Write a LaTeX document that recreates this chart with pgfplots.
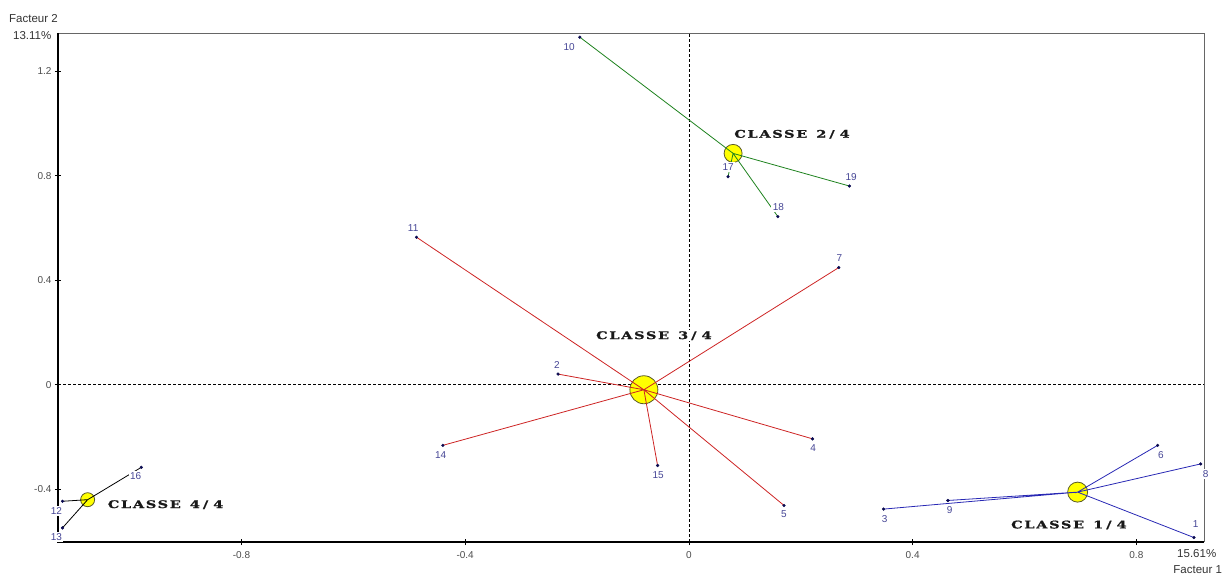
\documentclass[border=0pt]{standalone}
\usepackage{fontspec}
\setmainfont{Liberation Sans}
\newfontfamily\classfont[FakeStretch=1.38, LetterSpace=16, FakeBold=1.2]{DejaVu Serif}
\usepackage{pgfplots}
\pgfplotsset{compat=1.18}
\definecolor{cblue}{RGB}{40,40,180}
\definecolor{cgreen}{RGB}{30,130,30}
\definecolor{cred}{RGB}{205,35,35}
\definecolor{cdot}{RGB}{10,10,80}
\definecolor{clbl}{RGB}{70,70,150}
\definecolor{cyel}{RGB}{255,255,0}
\definecolor{cring}{RGB}{90,90,40}
\tikzset{
  lbl/.style={font=\fontsize{10}{12}\selectfont, text=clbl, fill=white, inner sep=1.5pt},
  cls/.style={font=\fontsize{10.5}{12}\classfont\bfseries, text=black!90, anchor=base west, fill=white, inner sep=1pt},
}
\begin{document}
\begin{tikzpicture}
\useasboundingbox (-58pt,-34pt) rectangle (1167pt,542pt);
\begin{axis}[
  at={(0,0)}, anchor=south west,
  scale only axis, width=1146pt, height=509pt,
  xmin=-1.128, xmax=0.921, ymin=-0.602, ymax=1.347,
  axis line style={draw=none},
  tick pos=left, tick align=center, major tick length=6pt,
  tick style={black, line width=0.8pt},
  xtick={-0.8,-0.4,0,0.4,0.8}, xticklabels={{-0.8},{-0.4},0,0.4,0.8},
  ytick={-0.4,0,0.4,0.8,1.2}, yticklabels={{-0.4},0,0.4,0.8,1.2},
  ticklabel style={font=\fontsize{10}{12}\selectfont, text=black!70},
  xticklabel style={yshift=-3pt},
  clip=false, clip marker paths=true,
]
% reference lines
\draw[black, dash pattern=on 3pt off 2pt, line width=0.7pt] (axis cs:0,-0.602) -- (axis cs:0,1.347);
\draw[black, dash pattern=on 3pt off 2pt, line width=0.7pt] (axis cs:-1.128,0) -- (axis cs:0.921,0);
% class centres
\addplot[only marks, mark=*, mark size=10pt, mark options={fill=cyel, draw=cring, line width=0.8pt}] coordinates {(0.695,-0.411)};
\addplot[only marks, mark=*, mark size=9pt, mark options={fill=cyel, draw=cring, line width=0.8pt}] coordinates {(0.079,0.886)};
\addplot[only marks, mark=*, mark size=14pt, mark options={fill=cyel, draw=cring, line width=0.8pt}] coordinates {(-0.0805,-0.019)};
\addplot[only marks, mark=*, mark size=7pt, mark options={fill=cyel, draw=cring, line width=0.8pt}] coordinates {(-1.075,-0.440)};
% class 1 star
\addplot[cblue, line width=0.8pt, mark=none] coordinates {
 (0.695,-0.411) (0.903,-0.585) (0.695,-0.411) (0.348,-0.476) (0.695,-0.411) (0.838,-0.232)
 (0.695,-0.411) (0.915,-0.303) (0.695,-0.411) (0.463,-0.443)};
% class 2 star
\addplot[cgreen, line width=0.8pt, mark=none] coordinates {
 (0.079,0.886) (-0.195,1.331) (0.079,0.886) (0.287,0.761) (0.079,0.886) (0.159,0.644)
 (0.079,0.886) (0.070,0.797)};
% class 3 star
\addplot[cred, line width=0.8pt, mark=none] coordinates {
 (-0.0805,-0.019) (-0.234,0.041) (-0.0805,-0.019) (0.221,-0.207) (-0.0805,-0.019) (0.170,-0.462)
 (-0.0805,-0.019) (0.268,0.449) (-0.0805,-0.019) (-0.487,0.565) (-0.0805,-0.019) (-0.440,-0.232)
 (-0.0805,-0.019) (-0.056,-0.309)};
% class 4 star
\addplot[black, line width=0.8pt, mark=none] coordinates {
 (-1.075,-0.440) (-1.120,-0.446) (-1.075,-0.440) (-1.120,-0.548) (-1.075,-0.440) (-0.979,-0.316)};
% individual points
\addplot[only marks, mark=*, mark size=1.4pt, cdot] coordinates {
 (0.903,-0.585) (-0.234,0.041) (0.348,-0.476) (0.221,-0.207) (0.170,-0.462)
 (0.838,-0.232) (0.268,0.449) (0.915,-0.303) (0.463,-0.443) (-0.195,1.331)
 (-0.487,0.565) (-1.120,-0.446) (-1.120,-0.548) (-0.440,-0.232) (-0.056,-0.309)
 (-0.979,-0.316) (0.070,0.797) (0.159,0.644) (0.287,0.761)};
% frame
\draw[black!60, line width=0.9pt] (rel axis cs:0,1) -- (rel axis cs:1,1) -- (rel axis cs:1,0);
\draw[black, line width=1.2pt] (rel axis cs:0,1) -- (rel axis cs:0,0) -- (rel axis cs:1,0);
% point labels
\node[lbl] at (axis cs:0.906,-0.532) {1};
\node[lbl] at (axis cs:-0.236,0.077) {2};
\node[lbl] at (axis cs:0.350,-0.513) {3};
\node[lbl] at (axis cs:0.222,-0.244) {4};
\node[lbl] at (axis cs:0.170,-0.496) {5};
\node[lbl] at (axis cs:0.844,-0.269) {6};
\node[lbl] at (axis cs:0.269,0.485) {7};
\node[lbl] at (axis cs:0.924,-0.342) {8};
\node[lbl] at (axis cs:0.466,-0.481) {9};
\node[lbl] at (axis cs:-0.214,1.292) {10};
\node[lbl] at (axis cs:-0.493,0.601) {11};
\node[lbl] at (axis cs:-1.131,-0.482) {12};
\node[lbl] at (axis cs:-1.131,-0.584) {13};
\node[lbl] at (axis cs:-0.444,-0.269) {14};
\node[lbl] at (axis cs:-0.055,-0.344) {15};
\node[lbl] at (axis cs:-0.989,-0.351) {16};
\node[lbl] at (axis cs:0.070,0.835) {17};
\node[lbl] at (axis cs:0.160,0.682) {18};
\node[lbl] at (axis cs:0.290,0.797) {19};
% class labels
\node[cls] at (axis cs:0.574,-0.550) {CLASSE\hspace{9pt}1\hspace{3pt}/\hspace{5pt}4};
\node[cls] at (axis cs:0.079,0.946) {CLASSE\hspace{9pt}2\hspace{3pt}/\hspace{5pt}4};
\node[cls] at (axis cs:-0.168,0.175) {CLASSE\hspace{9pt}3\hspace{3pt}/\hspace{5pt}4};
\node[cls] at (axis cs:-1.041,-0.472) {CLASSE\hspace{9pt}4\hspace{3pt}/\hspace{5pt}4};
% corner texts
\node[anchor=east, inner sep=0pt, font=\fontsize{11.5}{13}\selectfont, text=black!80] at ([xshift=-6.5pt,yshift=-2.7pt]rel axis cs:0,1) {13.11\%};
\node[anchor=west, inner sep=0pt, font=\fontsize{11.5}{13}\selectfont, text=black!80] at ([xshift=-49pt,yshift=14pt]rel axis cs:0,1) {Facteur 2};
\node[anchor=center, inner sep=0pt, font=\fontsize{11.5}{13}\selectfont, text=black!80] at ([xshift=-7.3pt,yshift=-12pt]rel axis cs:1,0) {15.61\%};
\node[anchor=center, inner sep=0pt, font=\fontsize{11.5}{13}\selectfont, text=black!80] at ([xshift=-6.3pt,yshift=-28pt]rel axis cs:1,0) {Facteur 1};
\end{axis}
\end{tikzpicture}
\end{document}
